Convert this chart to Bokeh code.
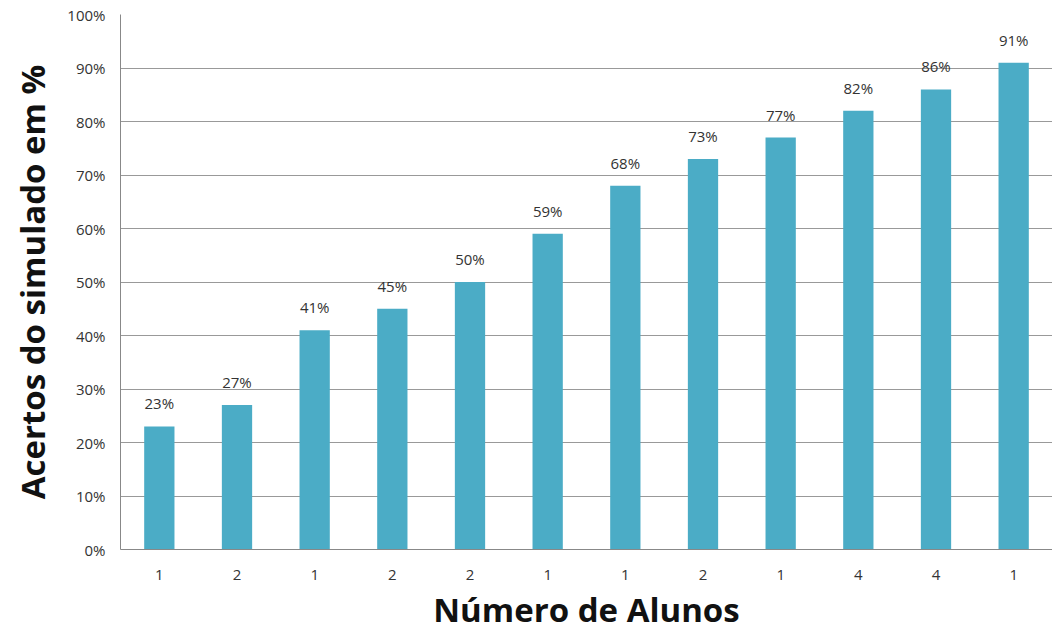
from bokeh.plotting import figure
from bokeh.models import Range1d, FixedTicker, ColumnDataSource, LabelSet
from bokeh.core.properties import value
from bokeh.embed import file_html
from bokeh.resources import INLINE

tick_labels = ["1", "2", "1", "2", "2", "1", "1", "2", "1", "4", "4", "1"]
values = [23, 27, 41, 45, 50, 59, 68, 73, 77, 82, 86, 91]
y_ticks = [0, 10, 20, 30, 40, 50, 60, 70, 80, 90, 100]

xs = list(range(len(values)))
src = ColumnDataSource(dict(x=xs, top=values, lbl=[f"{v}%" for v in values]))

p = figure(width=1052, height=634, output_backend="svg", toolbar_location=None,
           x_range=Range1d(-0.5, len(values) - 0.5), y_range=Range1d(0, 100),
           min_border_left=120, min_border_right=0, min_border_top=14, min_border_bottom=85)
p.outline_line_color = None
p.background_fill_color = "white"

p.vbar(x="x", top="top", width=0.39, bottom=0, source=src, color="#4BACC6", line_color=None)

font = "Open Sans"
labels = LabelSet(x="x", y="top", text="lbl", source=src, text_align="center",
                  text_baseline="bottom", y_offset=13, text_font=value(font),
                  text_font_size="15px", text_color="#333333")
p.add_layout(labels)

p.yaxis.ticker = FixedTicker(ticks=y_ticks)
p.yaxis.major_label_overrides = {t: f"{t}%" for t in y_ticks}
p.xaxis.ticker = FixedTicker(ticks=xs)
p.xaxis.major_label_overrides = {i: l for i, l in enumerate(tick_labels)}

for ax in (p.xaxis, p.yaxis):
    ax.major_tick_line_color = None
    ax.minor_tick_line_color = None
    ax.major_tick_out = 0
    ax.major_tick_in = 0
    ax.minor_tick_out = 0
    ax.axis_line_color = "#888888"
    ax.major_label_text_font = font
    ax.major_label_text_font_size = "15px"
    ax.major_label_text_color = "#333333"
    ax.axis_label_text_font = font
    ax.axis_label_text_font_style = "bold"
    ax.axis_label_text_font_size = "33px"
    ax.axis_label_text_color = "#111111"

p.yaxis.axis_label = "Acertos do simulado em %"
p.xaxis.axis_label = "Número de Alunos"
p.yaxis.major_label_standoff = 15
p.yaxis.axis_label_standoff = 9
p.xaxis.major_label_standoff = 20
p.xaxis.axis_label_standoff = 4

p.xgrid.grid_line_color = None
p.ygrid.grid_line_color = "#999999"
p.ygrid.grid_line_width = 1

open("out.html", "w").write(file_html(p, INLINE))
